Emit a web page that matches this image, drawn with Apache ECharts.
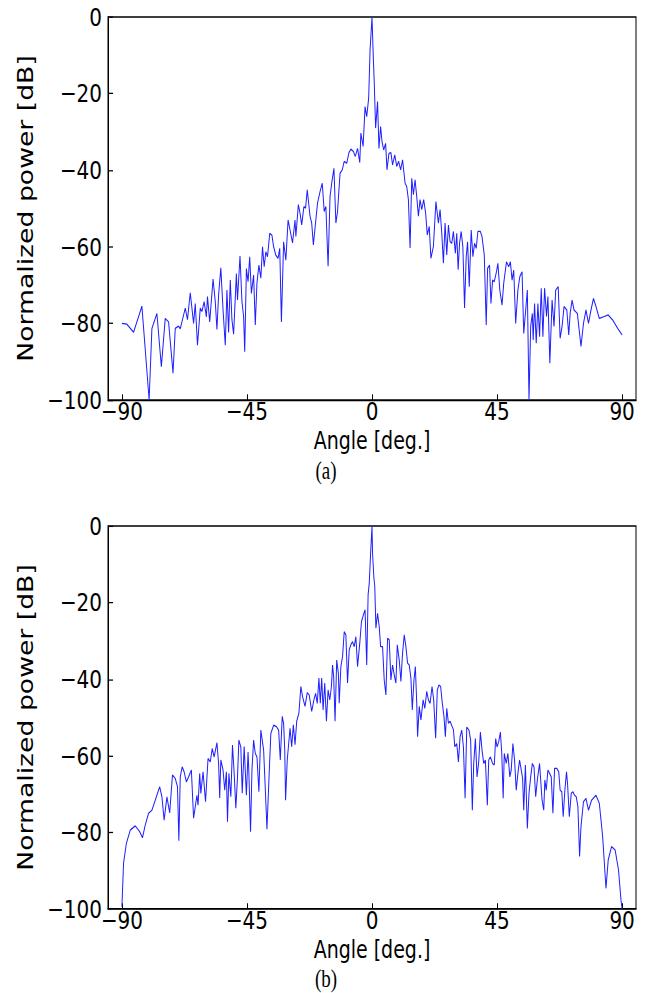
<!DOCTYPE html>
<html>
<head>
<meta charset="utf-8">
<script src="https://cdn.jsdelivr.net/npm/echarts@6/dist/echarts.min.js"></script>
<style>
html,body{margin:0;padding:0;background:#fff;overflow:hidden;}
#wrap{width:649px;height:993px;overflow:hidden;}
#chart{width:649px;height:782px;transform:scaleY(1.27);transform-origin:0 0;}
</style>
</head>
<body>
<div id="wrap"><div id="chart"></div></div>
<script>
// Tick values
const xTicks = [-90, -45, 0, 45, 90];
const yTicks = [0, -20, -40, -60, -80, -100];

// Panel (a) data: angle [deg], normalized power [dB]
const anglesA = [-90,-88.2,-85.8,-82.8,-80.2,-79.2,-77.4,-75.8,-74.4,-73.2,-71.6,-70.8,-69.6,-69,-68.4,-67.2,-66.4,-65.4,-64.2,-63.6,-62.8,-61.8,-61.2,-60.4,-59.6,-59.2,-58.4,-57.2,-56.4,-55.8,-55.2,-54.4,-53.6,-52.8,-52.2,-51.6,-51,-50.4,-49.8,-48.8,-48.4,-47.5,-46.8,-46.2,-45.8,-45.2,-44.6,-44,-43.4,-42.6,-42,-41.4,-40.7,-40,-39.4,-38.8,-38.2,-37.6,-36.8,-36,-35.4,-34.6,-33.8,-33.2,-32.6,-31.8,-31,-30.2,
-29.5,-28.6,-27.7,-27.4,-26.5,-25.9,-25.3,-24.5,-23.9,-23.3,-22.3,-21.7,-21.1,-20.5,-19.6,-18.7,-17.9,-17.2,-16.6,-15.8,-15.1,-14.5,-13.7,-13,-12.4,-11.5,-10.7,-10,-9.1,-8.3,-7.6,-6.7,-6,-5.2,-4.4,-4,-3.2,-2.5,-1.9,-1.2,-0.7,0,0.5,0.8,1.3,2,2.5,3.1,3.6,4.2,4.9,5.4,6.1,6.8,7.4,8.2,8.9,9.6,10.3,11,11.9,12.5,13.1,13.7,14.3,14.9,15.5,16.1,16.7,17.3,17.9,18.6,19.3,19.9,20.6,21.2,22.1,23,23.9,24.5,25.1,25.7,26.3,
26.9,27.5,28.1,28.7,29.3,30,30.5,31,31.5,32.1,32.7,33.3,33.9,34.4,35,35.7,36.3,36.9,37.5,38.1,39,39.6,40.4,41.1,41.6,42.3,42.8,43.4,44,44.8,45.3,46,46.8,47.4,48.4,49.2,49.8,50.4,51,51.7,52.5,53.2,54,54.6,55.2,55.9,56.5,57.1,57.7,58,58.5,59.1,59.7,60.3,60.9,61.5,62.1,62.8,63.3,64,64.8,65.5,66.1,67,67.7,68.4,69.1,70.1,70.8,71.3,72,72.7,73.9,75.2,76.1,77,77.9,78.8,79.7,80.6,81.8,83.6,85,86.6,88.4,90];
const powerA = [-80,-80.2,-82.3,-75.5,-100,-81.3,-77.4,-91.3,-78.7,-79.6,-93,-81.3,-80.7,-81.4,-79.6,-76,-79,-72,-80,-74.8,-85.7,-76,-76.9,-74.3,-78.3,-73,-79.6,-68.4,-74.3,-81.6,-72.6,-65.5,-76.5,-85.7,-71.3,-82.4,-68.7,-79.1,-82.8,-67,-73.9,-62.4,-74.3,-78.2,-87.4,-65.7,-69.1,-62.6,-72.2,-67.4,-80.4,-69.5,-64.8,-68.2,-60,-65.2,-61.3,-62.6,-56.5,-57,-60,-62.2,-63,-60.4,-79.6,-58.7,-63.5,-53,
-55.6,-59,-53,-57.3,-49,-51.2,-54.3,-49.5,-49.9,-45.1,-52,-53.8,-59.5,-55.1,-48.6,-45.6,-43.4,-50.8,-49.5,-65.1,-46.9,-43.4,-39.5,-53.8,-50.8,-40.8,-39.9,-37.7,-38.2,-35.4,-34.5,-35.1,-36.4,-34.3,-38,-30.3,-33.8,-23.4,-26,-21.2,-8.6,0,-11.2,-16.9,-29,-22.1,-34.3,-28.6,-32.5,-34.7,-33,-39.9,-35.6,-35.4,-38.6,-36,-39,-37.7,-39.9,-37.3,-43.4,-44.3,-47.7,-60.3,-42.1,-46.4,-42.5,-46.9,-52,-47.7,-50.3,-47.7,-51.2,-56.9,-54.7,-63,-59.9,-48.2,-53.8,-50.3,-56.4,-64.3,-53.8,
-62.1,-54.3,-58.7,-59.1,-56,-61.7,-56.5,-66,-59.1,-56,-60,-76,-62.6,-58.7,-70.4,-55.6,-62.6,-59.1,-60.4,-56,-56,-57.4,-62.1,-80.4,-65.6,-64.8,-74.8,-68.7,-69.1,-66.5,-64.3,-71.3,-75.2,-69.5,-63.9,-65.2,-63.9,-68.7,-66.1,-80,-71.3,-67.8,-66.5,-82.6,-77.4,-71.3,-100,-80.8,-77.4,-84.3,-74.8,-85.2,-74.8,-83.5,-70.8,-83.5,-70.8,-78.2,-73,-90.4,-73.9,-80.8,-71.3,-70.4,-83.9,-80.8,-75.6,-76.5,-83,-77.4,-73.9,-76.5,-77.4,-86,-80,-76.5,-80,-76.5,-73.5,-75.6,-78.7,-78.2,-77.8,-79.1,-81.3,-83];

// Panel (b) data
const anglesB = [-90,-89.4,-88.4,-87,-85.2,-83.6,-82.6,-81.6,-80.4,-79.2,-78,-76.4,-75.6,-74.8,-73.8,-72.8,-71.8,-70.8,-70,-69.5,-69,-68.3,-67.6,-66.8,-66,-65,-64.2,-63,-62.6,-62,-61.6,-60.8,-59.9,-59,-58.2,-57.5,-56.8,-55.8,-55.2,-54.8,-54.4,-53.6,-53,-52.4,-52,-51.5,-50.8,-50.2,-49.6,-49,-48.4,-47.9,-47.2,-46.7,-46,-45.2,-44.6,-44.3,-43.7,-43.2,-42.6,-42,-41.4,-40.7,-40,-39,-38.3,-37.8,-37,-36.4,-35.4,-34.4,-33.6,-33,-32.3,-31.8,-31.4,-31.1,-30.5,
-29.5,-28.9,-28.3,-27.7,-27.1,-26.3,-25.6,-25,-24.1,-23.3,-22.6,-21.7,-20.9,-20.3,-19.7,-19.1,-18.6,-18.1,-17.6,-17,-16.4,-15.8,-15.2,-14.6,-14.2,-13.8,-13.3,-12.7,-12.1,-11.8,-11.2,-10.6,-10,-9.4,-8.8,-8.2,-7.6,-7,-6.4,-5.8,-5.2,-4.4,-3.8,-3.1,-2.5,-1.9,-1.4,-1,-0.5,0,0.2,0.7,1,1.4,2,2.6,3.1,3.8,4.4,5,5.6,6.2,6.8,7.4,8,8.6,9.1,9.8,10.4,11,11.6,12.2,12.8,13.4,14,14.5,15.1,15.6,16.1,16.4,17,17.6,18.4,19,19.7,20.3,20.9,21.6,22.2,22.9,23.5,24.1,24.7,25.3,25.9,26.4,26.9,27.5,28.1,28.8,29.3,29.8,
30.5,31.1,31.7,32.3,32.9,33.5,34.1,34.9,35.5,36.1,36.6,37.2,37.8,38.4,39,39.6,40.2,40.8,41.5,42,42.6,43.4,44,44.5,45,45.6,46.2,46.7,47.2,47.6,48.3,48.9,49.6,50.1,50.7,51.3,51.9,52.5,53.1,53.7,54.2,54.6,55.2,55.9,56.5,57.1,57.7,58.3,58.9,59.5,60.3,60.7,61.2,61.8,62.2,62.7,63.3,63.9,64.5,65.1,65.7,66.5,67.2,67.7,68.3,68.8,69.4,70,70.4,71,71.7,72.3,72.9,73.5,74.1,74.7,75.2,76.1,77,77.9,79,80.6,81.8,83,84.2,85,86.2,87.5,88.7,89.6,90];
const powerB = [-99.4,-88,-82.9,-79.4,-78.3,-79.8,-81.4,-78.1,-75,-74.2,-71.6,-68.1,-70.7,-76.8,-70.7,-74.9,-65,-65.9,-68.1,-82.2,-65.5,-62.9,-64.2,-66.8,-65.5,-63.7,-76.3,-70.3,-72.9,-64.6,-69.8,-64.2,-72,-60.7,-61.6,-58.1,-60.3,-56.6,-62,-71,-61.1,-63.7,-69,-64.2,-77.2,-64.6,-70.7,-57.2,-64.6,-73.7,-65.5,-55.9,-57.7,-69.8,-57.6,-70.3,-59,-64.6,-79.8,-63.7,-55.9,-59.4,-60.3,-69.4,-53.3,-58.5,-70.3,-79.2,-64.6,-54.2,-52,-52.4,-53.3,-61.1,-49.7,-51.6,-58.5,-71.6,-61.1,
-52.8,-57.6,-51.9,-57.1,-51,-48.9,-41.9,-44.5,-47.1,-43.5,-44.1,-48.4,-45.4,-43.7,-46.3,-39.7,-46.3,-39.7,-48,-41,-51,-42.8,-45.4,-41.9,-36.3,-39.3,-51,-35,-38.4,-46.3,-36.7,-34.1,-27.6,-28.4,-41,-32.3,-31,-30.2,-31.5,-28.9,-36.7,-30.6,-25,-23.2,-21.9,-36.3,-18,-15,-7.1,0,-7.1,-13.7,-15.8,-26.7,-22.8,-26.3,-31.5,-31.5,-40.2,-44.1,-29.3,-29.7,-40.2,-36.3,-38.9,-41,-31,-35,-40.6,-33.2,-28.4,-31.5,-35.8,-36.3,-39.7,-48,-40.2,-36.7,-46.3,-55,-47.1,-50.6,-45.4,-47.6,-43.2,-45.4,-46.3,-41.9,-45.4,-55.4,-42.8,-41.5,-41.9,-46.3,-49.7,-55,-47.6,-51.5,-51,-52.3,-53.2,-57.6,
-56.8,-61.6,-55,-53.3,-57.7,-71.1,-52.5,-53.3,-55.9,-74.2,-62,-55.5,-65.5,-61.6,-53.8,-58.5,-62,-61.1,-72.9,-61.1,-60.3,-62,-62.4,-55.5,-57.7,-56.3,-53.8,-59.4,-71.1,-59.4,-62,-59.4,-65.5,-63.7,-56.8,-61.1,-69,-64.6,-61.1,-63.7,-65.9,-74.2,-62.4,-79,-69.8,-65.5,-62,-62.9,-70.7,-66.3,-62,-66.3,-71.6,-74.2,-66.3,-69,-63.7,-64.6,-65.5,-75,-63.3,-63.3,-64.2,-69,-69.4,-75.9,-69,-64.2,-67.7,-75.9,-69.8,-69.4,-70.3,-70.7,-73.3,-86.3,-78.5,-72,-71.1,-74.2,-71.6,-70.3,-72.4,-81.1,-94.6,-87.2,-83.7,-84.6,-89.8,-97.7,-100];

const zip = (a, b) => a.map((v, i) => [v, b[i]]);
const minus = v => String(v).replace('-', '\u2212');
const FONT = 'DejaVu Sans';
const FS = 20;
const S = 1.27; // the reference figure is stretched vertically

function xAxisCfg(gi) {
  return {
    gridIndex: gi, type: 'value', min: -95, max: 95,
    axisLine: {show: true, onZero: false, lineStyle: {color: '#000', width: 1}},
    axisTick: {show: true, inside: true, length: 4.5, customValues: xTicks, lineStyle: {color: '#000'}},
    axisLabel: {customValues: xTicks, formatter: minus, color: '#000', fontSize: FS, fontFamily: FONT, margin: -1},
    splitLine: {show: false},
    name: 'Angle [deg.]', nameLocation: 'middle', nameGap: 22.4,
    nameTextStyle: {color: '#000', fontSize: 19, fontFamily: FONT}
  };
}
function yAxisCfg(gi) {
  return {
    gridIndex: gi, type: 'value', min: -100, max: 0, interval: 20,
    axisLine: {show: true, onZero: false, lineStyle: {color: '#000', width: 1}},
    axisTick: {show: true, inside: true, length: 5, lineStyle: {color: '#000'}},
    axisLabel: {formatter: minus, color: '#000', fontSize: FS, fontFamily: FONT, margin: 6},
    splitLine: {show: false},
    name: 'Normalized power [dB]', nameLocation: 'middle', nameGap: 66, nameRotate: 90,
    nameTextStyle: {color: '#000', fontSize: 21, fontFamily: FONT}
  };
}
function seriesCfg(i, data) {
  return {
    type: 'line', xAxisIndex: i, yAxisIndex: i, data: data,
    showSymbol: false, symbol: 'none', smooth: false, clip: true,
    lineStyle: {color: '#1f1fff', width: 1}, animation: false
  };
}

const chart = echarts.init(document.getElementById('chart'), null, {renderer: 'svg', width: 649, height: 782});
chart.setOption({
  animation: false,
  backgroundColor: '#fff',
  grid: [
    {left: 108, top: 17 / S, width: 528, height: 383 / S, show: true, borderColor: '#000', borderWidth: 1, backgroundColor: 'transparent'},
    {left: 108, top: 526 / S, width: 528, height: 383 / S, show: true, borderColor: '#000', borderWidth: 1, backgroundColor: 'transparent'}
  ],
  xAxis: [xAxisCfg(0), xAxisCfg(1)],
  yAxis: [yAxisCfg(0), yAxisCfg(1)],
  series: [seriesCfg(0, zip(anglesA, powerA)), seriesCfg(1, zip(anglesB, powerB))],
  graphic: [
    {type: 'text', x: 326, y: 471 / S, style: {text: '(a)', font: '19px "Liberation Serif"', fill: '#000', align: 'center', verticalAlign: 'middle'}},
    {type: 'text', x: 326, y: 979.5 / S, style: {text: '(b)', font: '19px "Liberation Serif"', fill: '#000', align: 'center', verticalAlign: 'middle'}}
  ]
});
</script>
</body>
</html>
